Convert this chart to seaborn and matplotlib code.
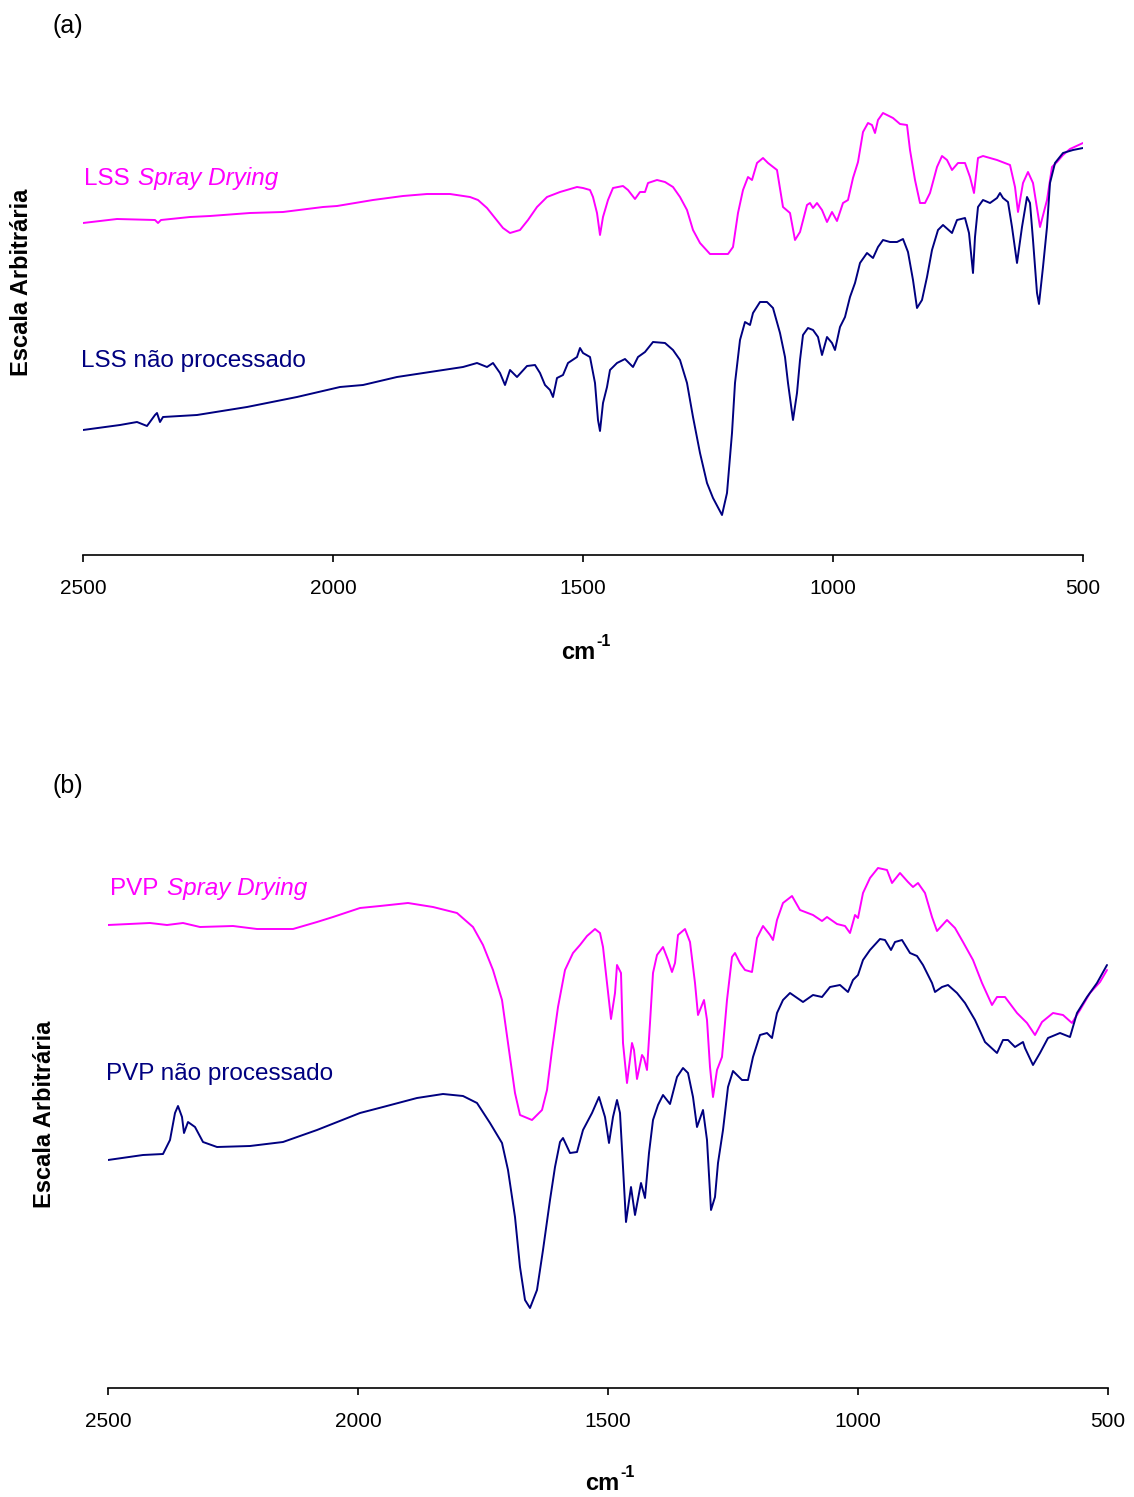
import numpy as np
import pandas as pd
import matplotlib
matplotlib.use("Agg")
import matplotlib.pyplot as plt
import seaborn as sns

# ---------------- (a) LSS spectra: wavenumber (cm-1) and arbitrary intensity ----------------
lss_sd_wn = [2500, 2432, 2356, 2350, 2344, 2286, 2246, 2166, 2100, 2020, 1992, 1920, 1860, 1812,
             1766, 1726, 1710, 1692, 1676, 1660, 1646, 1626, 1610, 1592, 1572, 1546, 1512, 1500,
             1486, 1480, 1472, 1466, 1460, 1450, 1440, 1420, 1410, 1396, 1386, 1376, 1370, 1352,
             1336, 1320, 1306, 1292, 1280, 1266, 1246, 1210, 1200, 1190, 1180, 1170, 1162, 1152,
             1140, 1130, 1112, 1100, 1086, 1076, 1066, 1052, 1046, 1040, 1032, 1022, 1012, 1002,
             992, 980, 970, 960, 950, 940, 930, 922, 916, 910, 900, 880, 866, 852, 846, 836, 826,
             816, 806, 792, 782, 772, 762, 750, 736, 726, 718, 710, 700, 672, 646, 636, 630, 620,
             610, 600, 586, 572, 562, 552, 540, 526, 500]
lss_sd_y = [332, 336, 335, 332, 335, 338, 339, 342, 343, 348, 349, 355, 359, 361,
            361, 358, 355, 347, 337, 327, 322, 325, 335, 348, 358, 363, 368, 367,
            365, 358, 342, 320, 338, 355, 367, 369, 365, 356, 363, 363, 372, 375,
            373, 368, 358, 345, 325, 312, 301, 301, 308, 342, 365, 378, 375, 392,
            397, 392, 385, 348, 342, 315, 323, 350, 352, 347, 352, 345, 333, 343,
            334, 352, 355, 377, 393, 423, 432, 430, 422, 435, 442, 437, 431, 430, 405, 375, 352,
            352, 362, 388, 399, 395, 385, 392, 392, 378, 362, 397, 399, 395, 390, 368, 343, 372,
            383, 372, 328, 355, 388, 393, 400, 406, 412]

lss_raw_wn = [2500, 2426, 2392, 2372, 2356, 2352, 2346, 2340, 2272, 2172, 2072, 1986, 1940, 1872,
              1806, 1740, 1712, 1692, 1680, 1666, 1656, 1646, 1632, 1612, 1596, 1586, 1576, 1566,
              1560, 1552, 1540, 1530, 1512, 1506, 1500, 1486, 1476, 1470, 1466, 1460, 1452, 1446,
              1432, 1416, 1400, 1390, 1376, 1360, 1336, 1320, 1306, 1292, 1280, 1266, 1252, 1240,
              1222, 1212, 1202, 1196, 1186, 1176, 1166, 1160, 1146, 1132, 1120, 1106, 1096, 1090,
              1080, 1072, 1066, 1060, 1050, 1040, 1030, 1022, 1012, 1002, 996, 986, 976, 966, 956,
              946, 932, 920, 910, 900, 886, 872, 860, 850, 840, 832, 822, 812, 802, 790, 780, 762,
              752, 736, 728, 720, 716, 710, 700, 686, 672, 666, 660, 650, 642, 632, 622, 612, 606,
              600, 592, 588, 580, 572, 566, 556, 540, 520, 500]
lss_raw_y = [125, 130, 133, 129, 140, 142, 133, 138, 140, 148, 158, 168, 170, 178,
             183, 188, 192, 188, 192, 182, 170, 185, 178, 189, 190, 182, 170, 165,
             158, 177, 180, 192, 198, 207, 202, 198, 172, 135, 124, 152, 168, 185,
             192, 196, 188, 198, 203, 213, 212, 205, 195, 172, 138, 102, 72, 57,
             40, 62, 122, 172, 215, 233, 230, 242, 253, 253, 247, 222, 198, 172,
             135, 162, 195, 220, 227, 225, 218, 200, 218, 212, 205, 228, 238, 258, 272,
             292, 302, 297, 308, 315, 313, 313, 316, 303, 275, 247, 255, 278, 305, 325, 330, 322,
             335, 337, 322, 282, 318, 348, 355, 352, 357, 362, 357, 353, 328, 292, 328, 358, 352,
             315, 262, 251, 288, 328, 372, 392, 402, 405, 407]

# ---------------- (b) PVP spectra ----------------
pvp_sd_wn = [2500, 2416, 2382, 2350, 2316, 2250, 2202, 2130, 2082, 2050, 1996, 1956, 1900, 1850,
             1802, 1770, 1750, 1730, 1712, 1700, 1686, 1676, 1652, 1632, 1622, 1612, 1600, 1586,
             1570, 1556, 1542, 1526, 1516, 1510, 1502, 1494, 1486, 1482, 1474, 1470, 1462, 1452,
             1448, 1442, 1432, 1428, 1422, 1416, 1410, 1402, 1390, 1380, 1372, 1366, 1360, 1346,
             1336, 1326, 1320, 1308, 1302, 1296, 1290, 1282, 1272, 1262, 1252, 1246, 1236, 1226,
             1212, 1202, 1190, 1176, 1170, 1162, 1150, 1132, 1116, 1090, 1072, 1062, 1042, 1026,
             1016, 1006, 1000, 990, 976, 960, 942, 932, 916, 900, 890, 880, 866, 852, 842, 822,
             806, 790, 770, 752, 732, 722, 706, 682, 662, 646, 632, 610, 590, 572, 556, 536, 516,
             502]
pvp_sd_y = [463, 465, 463, 465, 461, 462, 459, 459, 466, 471, 480, 482, 485, 481,
            475, 461, 443, 418, 388, 345, 295, 273, 268, 278, 298, 338, 381, 418,
            435, 443, 452, 459, 455, 441, 405, 369, 395, 423, 415, 345, 305, 345,
            338, 309, 333, 330, 318, 365, 415, 433, 441, 428, 416, 425, 453, 459,
            446, 405, 373, 388, 368, 321, 291, 318, 331, 388, 431, 435, 425, 418,
            416, 450, 462, 453, 448, 468, 485, 492, 478, 473, 467, 471, 464, 462,
            455, 473, 470, 495, 510, 520, 518, 505, 515, 506, 501, 505, 495, 471, 457, 468,
            460, 446, 428, 405, 383, 391, 391, 375, 365, 353, 366, 375, 373, 365, 378, 395, 406,
            418]

pvp_raw_wn = [2500, 2430, 2390, 2376, 2366, 2360, 2352, 2348, 2340, 2326, 2310, 2282, 2216, 2150,
              2082, 1996, 1950, 1882, 1830, 1790, 1762, 1736, 1712, 1700, 1686, 1676, 1666, 1656,
              1642, 1630, 1616, 1606, 1596, 1590, 1576, 1562, 1550, 1532, 1518, 1506, 1498, 1490,
              1482, 1476, 1470, 1464, 1454, 1446, 1434, 1426, 1418, 1410, 1400, 1390, 1376, 1362,
              1350, 1340, 1330, 1322, 1310, 1302, 1294, 1286, 1280, 1270, 1260, 1250, 1232, 1220,
              1210, 1196, 1182, 1172, 1162, 1150, 1136, 1110, 1090, 1072, 1056, 1036, 1020, 1010,
              1000, 990, 976, 956, 946, 934, 926, 912, 896, 882, 870, 852, 846, 832, 820, 802, 786,
              766, 746, 722, 710, 700, 686, 670, 666, 650, 636, 620, 596, 576, 562, 542, 522, 502]
pvp_raw_y = [228, 233, 234, 248, 275, 282, 271, 255, 266, 261, 246, 241, 242, 246,
             258, 275, 281, 290, 294, 292, 285, 265, 245, 218, 171, 121, 88, 80,
             98, 138, 188, 221, 246, 250, 235, 236, 258, 275, 291, 271, 245, 271,
             288, 275, 221, 166, 201, 173, 205, 190, 235, 268, 283, 293, 284, 311,
             320, 315, 291, 261, 278, 248, 178, 191, 225, 258, 301, 317, 308, 308,
             331, 353, 355, 350, 375, 388, 395, 386, 393, 391, 401, 403, 396, 408,
             413, 428, 438, 449, 448, 438, 446, 448, 435, 432, 423, 405, 396, 401, 403, 395, 385,
             368, 346, 335, 348, 348, 341, 346, 340, 323, 335, 350, 355, 351, 375, 391, 405, 423]

tick_values = [2500, 2000, 1500, 1000, 500]
tick_labels = ["2500", "2000", "1500", "1000", "500"]

PINK = "#FF00FF"
NAVY = "#000080"

sns.set_style("white")
plt.rcParams["font.family"] = ["Liberation Sans", "DejaVu Sans"]
plt.rcParams["text.color"] = "black"
plt.rcParams["xtick.color"] = "black"
plt.rcParams["axes.labelcolor"] = "black"

W, H = 1134, 1497
fig = plt.figure(figsize=(W / 100, H / 100), dpi=100)


def fx(x):
    return x / W


def fy(y):
    return 1 - y / H


def make_frame(sd_wn, sd_y, raw_wn, raw_y, sd_name, raw_name):
    return pd.concat([
        pd.DataFrame({"wn": sd_wn, "y": sd_y, "amostra": sd_name}),
        pd.DataFrame({"wn": raw_wn, "y": raw_y, "amostra": raw_name}),
    ], ignore_index=True)


def draw_panel(x0, y_axis, y_top, df, names, ymax):
    ax = fig.add_axes([fx(x0), fy(y_axis), 1000 / W, (y_axis - y_top) / H])
    sns.lineplot(data=df, x="wn", y="y", hue="amostra", hue_order=names,
                 palette=[PINK, NAVY], sort=False, estimator=None,
                 legend=False, linewidth=1.4, ax=ax)
    ax.set_xlim(2500, 500)
    ax.set_ylim(0, ymax)
    for s in ("left", "top", "right"):
        ax.spines[s].set_visible(False)
    ax.spines["bottom"].set_color("black")
    ax.spines["bottom"].set_linewidth(1.2)
    ax.set_yticks([])
    ax.set_xticks(tick_values)
    ax.set_xticklabels(tick_labels)
    ax.tick_params(axis="x", direction="out", length=5, width=1.2, color="black",
                   labelcolor="black", labelsize=15, pad=12, bottom=True)
    ax.set_xlabel("")
    ax.set_ylabel("")
    ax.patch.set_alpha(0)
    return ax


def unit_label(x_left, baseline):
    # "cm" with a raised "-1" exponent
    fig.text(fx(x_left), fy(baseline), "cm", fontsize=17, fontweight="bold",
             ha="left", va="baseline")
    fig.text(fx(x_left + 35), fy(baseline - 13), "-1", fontsize=11.5, fontweight="bold",
             ha="left", va="baseline")


# panel (a)
df_a = make_frame(lss_sd_wn, lss_sd_y, lss_raw_wn, lss_raw_y,
                  "LSS Spray Drying", "LSS não processado")
draw_panel(83, 555, 100, df_a, ["LSS Spray Drying", "LSS não processado"], 455)

# panel (b)
df_b = make_frame(pvp_sd_wn, pvp_sd_y, pvp_raw_wn, pvp_raw_y,
                  "PVP Spray Drying", "PVP não processado")
draw_panel(108, 1388, 840, df_b, ["PVP Spray Drying", "PVP não processado"], 548)

# panel letters
fig.text(fx(53), fy(33), "(a)", fontsize=18, ha="left", va="baseline")
fig.text(fx(53), fy(793), "(b)", fontsize=18, ha="left", va="baseline")

# series names
fig.text(fx(84), fy(185), "LSS", fontsize=17.5, color=PINK, ha="left", va="baseline")
fig.text(fx(138), fy(185), "Spray Drying", fontsize=17.5, color=PINK, style="italic",
         ha="left", va="baseline")
fig.text(fx(81), fy(367), "LSS não processado", fontsize=17.5, color=NAVY,
         ha="left", va="baseline")
fig.text(fx(110), fy(895), "PVP", fontsize=17.5, color=PINK, ha="left", va="baseline")
fig.text(fx(167), fy(895), "Spray Drying", fontsize=17.5, color=PINK, style="italic",
         ha="left", va="baseline")
fig.text(fx(106), fy(1080), "PVP não processado", fontsize=17.5, color=NAVY,
         ha="left", va="baseline")

# axis titles
fig.text(fx(22), fy(282), "Escala Arbitrária", fontsize=17, fontweight="bold",
         rotation=90, ha="center", va="center")
fig.text(fx(45), fy(1114), "Escala Arbitrária", fontsize=17, fontweight="bold",
         rotation=90, ha="center", va="center")
unit_label(561, 659)
unit_label(585, 1490)

fig.savefig("out.png", dpi=100, facecolor="white")
